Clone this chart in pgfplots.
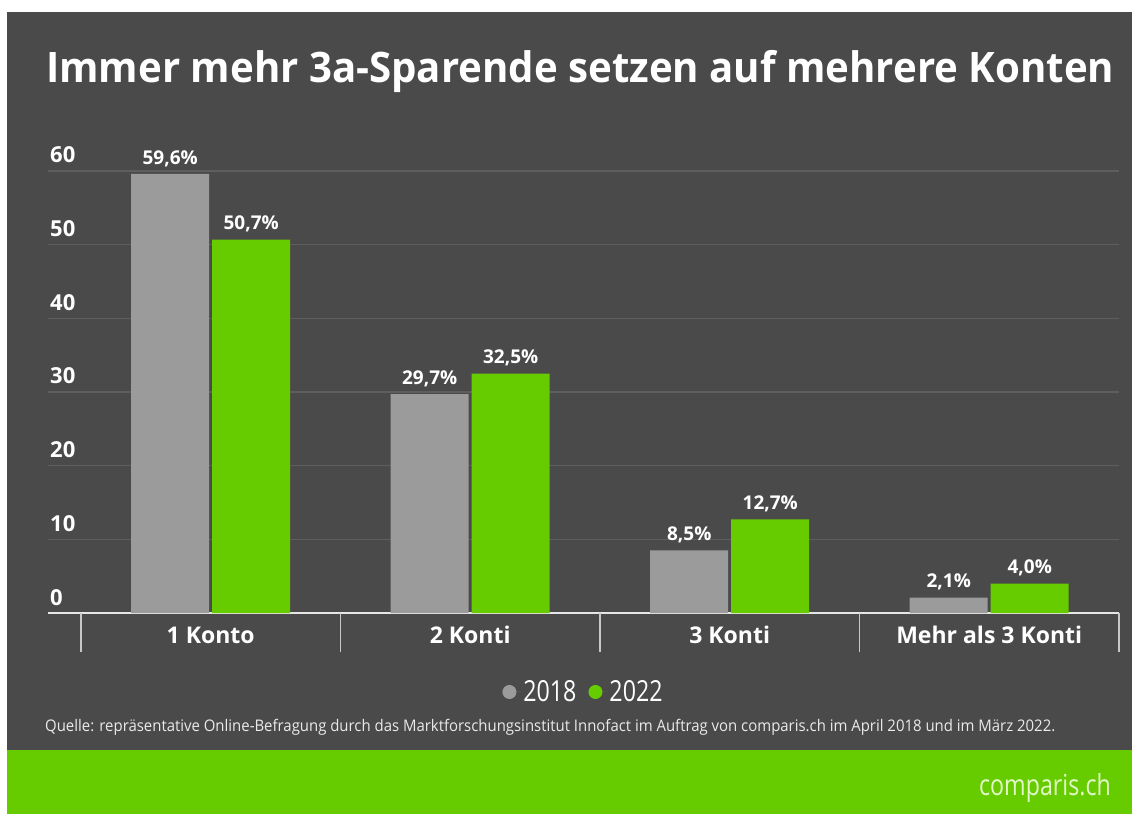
\documentclass[border=0pt]{standalone}
\usepackage{fontspec}
\setmainfont{Open Sans}
\newfontfamily\cond[FakeStretch=0.8]{Open Sans}
\usepackage{graphicx}
\usepackage{pgfplots}
\pgfplotsset{compat=1.18}
\definecolor{bg}{HTML}{4A4A4A}
\definecolor{bargray}{HTML}{9B9B9B}
\definecolor{bargreen}{HTML}{66CC00}
\definecolor{gridc}{HTML}{5E5E5E}
\definecolor{axisc}{HTML}{E6E6E6}
\definecolor{sepc}{HTML}{C8C8C8}
\definecolor{logoc}{HTML}{E2F8C8}
\definecolor{srcc}{HTML}{EAEAEA}

\begin{document}
\begin{tikzpicture}[x=1pt,y=1pt]
\fill[white] (0,0) rectangle (1132,814);
\fill[bg] (7,64) rectangle (1132,802);
\fill[bargreen] (7,0) rectangle (1132,64);

\begin{axis}[
  at={(48pt,201pt)}, anchor=south west,
  scale only axis, width=1071pt, height=442pt,
  xmin=-0.627, xmax=3.5, ymin=0, ymax=60,
  clip=false,
  ybar=3pt, bar width=78pt,
  axis x line*=bottom, axis y line*=left,
  x axis line style={-, draw=axisc, line width=2pt},
  y axis line style={draw=none},
  major tick length=0pt,
  xtick={0,1,2,3},
  xticklabels={1 Konto, 2 Konti, 3 Konti, Mehr als 3 Konti},
  extra x ticks={-0.5,0.5,1.5,2.5,3.5},
  extra x tick labels={},
  extra x tick style={grid=none, major tick length=39pt, tick align=outside,
     tick style={draw=sepc, line width=1.5pt}},
  xticklabel style={inner sep=0pt, anchor=base, yshift=-30pt, text=white,
     font=\bfseries\fontsize{23}{26}\selectfont},
  ytick={0,10,...,60},
  ytick style={draw=none},
  yticklabel style={inner sep=0pt, anchor=base west, xshift=2pt, yshift=8pt, text=white,
     font=\bfseries\fontsize{22}{26}\selectfont},
  /pgf/number format/assume math mode=true,
  ymajorgrids, grid style={draw=gridc, line width=1.5pt},
  nodes near coords={\pgfmathprintnumber[fixed, fixed zerofill, precision=1, use comma]{\pgfplotspointmeta}\%},
  nodes near coords style={text=white, inner sep=0pt, anchor=south, yshift=7pt,
     font=\bfseries\fontsize{19}{21}\selectfont},
  legend style={at={(0.5,-0.1787)}, anchor=center, draw=none, fill=none, text=white,
     font=\cond\fontsize{29}{32}\selectfont, legend columns=2,
     /tikz/every even column/.append style={column sep=10pt}},
]
\addplot[fill=bargray, draw=none,
  legend image code/.code={\fill[bargray] (7pt,0pt) circle (7pt); \path (0pt,0pt) -- (19pt,0pt);}]
  coordinates {(0,59.6) (1,29.7) (2,8.5) (3,2.1)};
\addplot[fill=bargreen, draw=none,
  legend image code/.code={\fill[bargreen] (7pt,0pt) circle (7pt); \path (0pt,0pt) -- (19pt,0pt);}]
  coordinates {(0,50.7) (1,32.5) (2,12.7) (3,4.0)};
\legend{2018, 2022}
\end{axis}

\node[anchor=base west, inner sep=0pt, text=white] at (46,731)
  {\resizebox{1068pt}{\height}{\bfseries\fontsize{42}{48}\selectfont Immer mehr 3a-Sparende setzen auf mehrere Konten}};
\node[anchor=base west, inner sep=0pt, text=srcc] at (45,83)
  {\resizebox{1010pt}{\height}{\cond\fontsize{16}{18}\selectfont Quelle: repräsentative Online-Befragung durch das Marktforschungsinstitut Innofact im Auftrag von comparis.ch im April 2018 und im März 2022.}};
\node[anchor=base east, inner sep=0pt, text=logoc] at (1111,19)
  {\cond\fontsize{29}{32}\selectfont comparis.ch};
\end{tikzpicture}
\end{document}
